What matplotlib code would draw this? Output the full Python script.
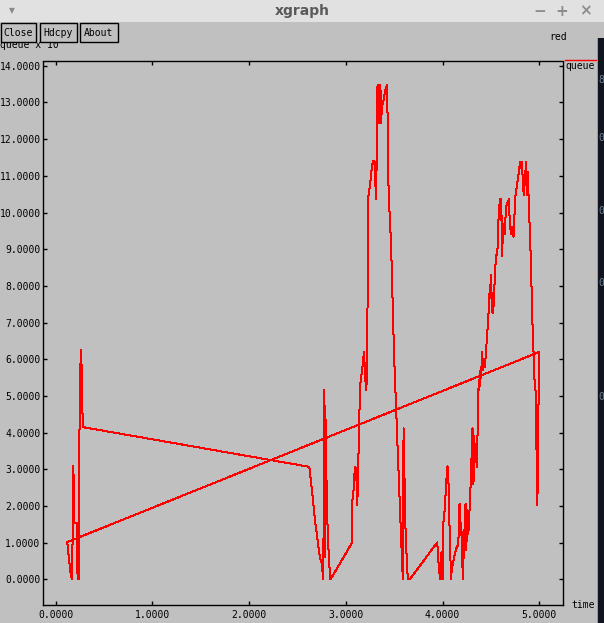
import matplotlib
matplotlib.use("Agg")
import matplotlib.pyplot as plt
from matplotlib.patches import Rectangle
from matplotlib.lines import Line2D

# queue trace, in the order xgraph joins the points
time = [0.120, 0.130, 0.143, 0.155, 0.169, 0.177, 0.182, 0.189, 0.194, 0.217,
        0.223, 0.229, 0.234, 0.238, 0.244, 0.254, 0.262, 0.269, 0.275, 0.285,
        2.623, 2.647, 2.664, 2.681, 2.699, 2.716, 2.733, 2.751, 2.767, 2.778,
        2.783, 2.788, 2.798, 2.813, 2.829, 2.842,
        3.064, 3.067, 3.078, 3.090, 3.100, 3.113, 3.119, 3.133, 3.147, 3.168,
        3.188, 3.199, 3.209, 3.219, 3.233, 3.243, 3.253, 3.264, 3.274, 3.284,
        3.297, 3.305, 3.315, 3.323, 3.328, 3.333, 3.338, 3.343, 3.348, 3.353,
        3.358, 3.364, 3.374, 3.384, 3.395, 3.405, 3.416, 3.426, 3.433, 3.436,
        3.447, 3.457, 3.467, 3.478, 3.488, 3.498, 3.512, 3.522, 3.533, 3.543,
        3.553, 3.564, 3.574, 3.584, 3.592, 3.597, 3.602, 3.612, 3.623, 3.633,
        3.643, 3.659,
        3.946, 3.957, 3.967, 3.977, 3.990, 4.000, 4.008, 4.026, 4.036, 4.052,
        4.062, 4.072, 4.083, 4.088, 4.096, 4.112, 4.129, 4.147, 4.163, 4.176,
        4.186, 4.194, 4.201, 4.210, 4.225, 4.238, 4.246, 4.256, 4.267, 4.277,
        4.291, 4.310, 4.320, 4.328, 4.338, 4.343, 4.354, 4.362, 4.374, 4.380,
        4.395, 4.401, 4.408, 4.416, 4.424, 4.432, 4.439, 4.474, 4.486, 4.498,
        4.502, 4.509, 4.515, 4.522, 4.529, 4.535, 4.553, 4.567, 4.574, 4.587,
        4.595, 4.602, 4.608, 4.615, 4.629, 4.643, 4.654, 4.664, 4.674, 4.685,
        4.691, 4.698, 4.708, 4.719, 4.734, 4.753, 4.767, 4.778, 4.788, 4.798,
        4.805, 4.812, 4.822, 4.829, 4.840, 4.853, 4.863, 4.871, 4.881, 4.888,
        4.898, 4.912, 4.922, 4.933, 4.943, 4.951, 4.962, 4.972, 4.981, 4.991,
        5.001, 0.120]
queue = [1.02, 0.75, 0.45, 0.15, 0.0, 1.55, 3.10, 2.40, 1.55, 1.55,
         0.30, 0.0, 1.55, 0.0, 3.60, 5.70, 6.25, 5.70, 4.65, 4.15,
         3.07, 2.49, 2.08, 1.63, 1.25, 0.90, 0.60, 0.45, 0.0, 5.17,
         0.60, 4.73, 2.97, 1.25, 0.40, 0.0,
         1.00, 2.12, 2.35, 2.90, 3.07, 2.60, 2.03, 3.60, 5.25, 5.70,
         6.20, 5.60, 5.15, 5.50, 10.45, 10.60, 10.80, 11.10, 11.30, 11.40,
         11.40, 10.80, 10.36, 12.95, 13.47, 12.45, 13.47, 12.45, 13.47, 12.45,
         13.47, 12.45, 12.90, 13.00, 13.10, 13.30, 13.40, 13.47, 12.45, 11.07,
         10.40, 9.65, 9.25, 8.20, 7.20, 6.20, 5.20, 4.45, 3.77, 3.09,
         2.39, 1.71, 1.03, 0.32, 0.0, 4.12, 3.77, 1.71, 1.03, 0.32,
         0.0, 0.0,
         1.01, 0.50, 0.20, 0.0, 0.75, 0.0, 1.53, 2.00, 2.58, 3.09,
         2.60, 1.50, 0.50, 0.0, 0.30, 0.50, 0.72, 0.88, 0.95, 2.06,
         1.20, 1.53, 0.90, 0.0, 1.20, 2.06, 0.80, 1.90, 1.25, 1.75,
         2.60, 4.12, 2.60, 3.90, 3.20, 3.60, 3.07, 3.95, 5.44, 5.15,
         5.80, 5.50, 6.20, 5.70, 5.80, 6.00, 5.80, 7.16, 7.80, 8.07,
         8.30, 7.30, 7.80, 7.27, 7.50, 7.90, 8.84, 8.84, 9.60, 10.16,
         10.36, 9.80, 10.36, 8.80, 9.70, 9.40, 10.00, 10.25, 10.20, 10.36,
         10.00, 9.70, 9.40, 9.60, 9.34, 10.43, 10.70, 10.90, 11.07, 11.30,
         11.38, 11.20, 11.38, 10.90, 10.47, 10.90, 11.38, 10.47, 11.10, 10.60,
         9.84, 8.80, 7.75, 6.70, 6.07, 5.45, 5.15, 3.50, 2.03, 4.50,
         6.20, 1.02]

x_ticks = [0, 1, 2, 3, 4, 5]
y_ticks = list(range(15))
buttons = ["Close", "Hdcpy", "About"]

W, H = 604, 623
GREY = "#c0c0c0"
MONO = "DejaVu Sans Mono"
FS = 7.0


def fx(px):
    return px / W


def fy(py):
    return 1 - py / H


fig = plt.figure(figsize=(W / 100, H / 100), dpi=100)
fig.patch.set_facecolor(GREY)

ax = fig.add_axes([fx(43.3), fy(605), (563.3 - 43.3) / W, (605 - 60.5) / H])
ax.set_facecolor(GREY)
ax.plot(time, queue, color="#ff0000", lw=0.72, antialiased=False)
ax.set_xlim(-0.128, 5.249)
ax.set_ylim(-0.695, 14.142)

ax.set_xticks(x_ticks)
ax.set_xticklabels([f"{v:.4f}" for v in x_ticks], family=MONO, fontsize=FS)
ax.set_yticks(y_ticks)
ax.set_yticklabels([f"{v:.4f}" for v in y_ticks], family=MONO, fontsize=FS)
ax.tick_params(direction="in", length=3, width=1, color="black",
               top=True, right=True)
ax.tick_params(axis="y", pad=2)
ax.tick_params(axis="x", pad=3.5)

for s in ax.spines.values():
    s.set_linestyle((0, (1, 1)))
    s.set_linewidth(1)
    s.set_color("black")

# xgraph marks the zero lines in white
for t, v in zip(ax.xaxis.get_major_ticks(), ax.get_xticks()):
    if v == 0:
        t.tick1line.set_color("white")
        t.tick2line.set_color("white")
for t, v in zip(ax.yaxis.get_major_ticks(), ax.get_yticks()):
    if v == 0:
        t.tick1line.set_color("white")
        t.tick2line.set_color("white")

# axis names and legend
fig.text(fx(0), fy(44.5), "queue x 10", family=MONO, fontsize=FS,
         ha="left", va="center", zorder=1)
fig.text(fx(62), fy(41), "0", family=MONO, fontsize=5,
         ha="left", va="center", zorder=1)
fig.text(fx(571.5), fy(605), "time", family=MONO, fontsize=FS,
         ha="left", va="center")
fig.text(fx(558), fy(37), "red", family=MONO, fontsize=FS,
         ha="center", va="center")
fig.text(fx(565), fy(66), "queue", family=MONO, fontsize=FS,
         ha="left", va="center")
fig.add_artist(Line2D([fx(565), fx(597)], [fy(60), fy(60)],
                      transform=fig.transFigure, color="#ff0000", lw=1))

# button row (covers the top of the y label, as in xgraph)
fig.add_artist(Rectangle((fx(0), fy(41.5)), fx(122), 20 / H,
                         transform=fig.transFigure, facecolor=GREY,
                         edgecolor="none", zorder=2))
bx = [(0.5, 35.5), (39.5, 76.5), (80.5, 117.5)]
for name, (x0, x1) in zip(buttons, bx):
    fig.add_artist(Rectangle((fx(x0), fy(41.5)), (x1 - x0) / W, 18.5 / H,
                             transform=fig.transFigure, facecolor=GREY,
                             edgecolor="black", lw=1, zorder=3))
    fig.text(fx((x0 + x1) / 2), fy(32.5), name, family=MONO, fontsize=FS,
             ha="center", va="center", zorder=4)

# window title bar
fig.add_artist(Rectangle((0, fy(21.5)), 1, 21.5 / H, transform=fig.transFigure,
                         facecolor="#e1e1e1", edgecolor="none", zorder=2))
fig.text(0.5, fy(11), "xgraph", fontsize=10, fontweight="bold",
         color="#5a5a5a", ha="center", va="center", zorder=3)
fig.text(fx(12), fy(11), "\u25bc", fontsize=5.5, color="#8a8a8a",
         ha="center", va="center", zorder=3)
for px, sym in [(540, "\u2212"), (562, "+"), (585, "\u00d7")]:
    fig.text(fx(px), fy(11), sym, fontsize=11, fontweight="bold",
             color="#8c8c8c", ha="center", va="center", zorder=3)

# desktop strip visible at the right edge
fig.add_artist(Rectangle((fx(597), 0), fx(1), fy(38), transform=fig.transFigure,
                         facecolor="#9a9a9a", edgecolor="none", zorder=2))
fig.add_artist(Rectangle((fx(598), 0), fx(6), fy(38), transform=fig.transFigure,
                         facecolor="#10141f", edgecolor="none", zorder=2))
for py, ch in [(80, "8"), (138, "0"), (211, "0"), (283, "0"), (397, "0")]:
    fig.text(fx(598), fy(py), ch, family=MONO, fontsize=FS, color="#6f8494",
             ha="left", va="center", zorder=3)

fig.savefig("out.png", dpi=100, facecolor=fig.get_facecolor())
